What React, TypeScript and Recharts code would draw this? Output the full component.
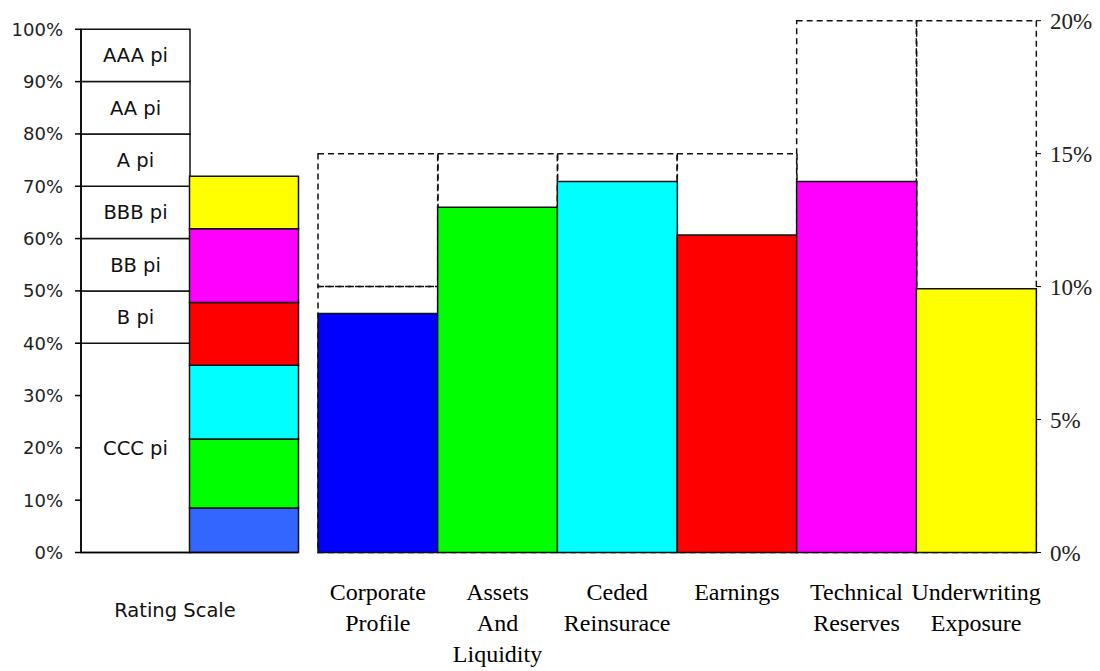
import { ComposedChart, BarChart, Bar, XAxis, YAxis, Cell, LabelList, Label } from "recharts";

// rating scale bands, bottom to top (left axis, %)
const ratingBands = ["CCC pi", "B pi", "BB pi", "BBB pi", "A pi", "AA pi", "AAA pi"];
const ratingBandSizes = [40, 10, 10, 10, 10, 10, 10];
const scoreTicks = [0, 10, 20, 30, 40, 50, 60, 70, 80, 90, 100];

// factors
const factors = [
    "Corporate Profile",
    "Assets And Liquidity",
    "Ceded Reinsurace",
    "Earnings",
    "Technical Reserves",
    "Underwriting Exposure",
];
const factorLabelLines = [
    ["Corporate", "Profile"],
    ["Assets", "And", "Liquidity"],
    ["Ceded", "Reinsurace"],
    ["Earnings"],
    ["Technical", "Reserves"],
    ["Underwriting", "Exposure"],
];
const factorScores = [45.7, 66.0, 70.9, 60.7, 70.9, 50.4];
const factorContributions = [8.5, 13.2, 14.1, 12.0, 14.1, 10.0];
const weightMin = [10, 15, 15, 15, 20, 20];
const weightMax = [15, 15, 15, 15, 20, 20];
const weightTicks = [0, 5, 10, 15, 20];

const factorColors = ["#0000FF", "#00FF00", "#00FFFF", "#FF0000", "#FF00FF", "#FFFF00"];
const contributionColors = ["#3366FF", "#00FF00", "#00FFFF", "#FF0000", "#FF00FF", "#FFFF00"];

const SANS = "DejaVu Sans";
const SERIF = "Liberation Serif";
// right plot is a bit taller than the left one (20% sits above 100%)
const SCORE_TOP = 101.64;

const ratingRows = [
    { name: "Rating Scale" } as Record<string, string | number>,
    { name: "Overall" } as Record<string, string | number>,
];
ratingBands.forEach((_, i) => {
    ratingRows[0]["band" + i] = ratingBandSizes[i];
    ratingRows[1]["band" + i] = 0;
});
factorContributions.forEach((v, i) => {
    ratingRows[0]["part" + i] = 0;
    ratingRows[1]["part" + i] = v;
});

const factorRows = factors.map((name, i) => ({
    name,
    score: factorScores[i],
    wLow: weightMin[i],
    wExtra: weightMax[i] - weightMin[i],
}));

function FactorTick(props: any) {
    const { x, y, payload } = props;
    const lines = factorLabelLines[payload.index] || [payload.value];
    return (
        <text x={x} y={y} textAnchor="middle" fontFamily={SERIF} fontSize={24} fill="#000">
            {lines.map((line, i) => (
                <tspan key={i} x={x} y={y + 47.5 + i * 31}>
                    {line}
                </tspan>
            ))}
        </text>
    );
}

export default function App() {
    return (
        <div style={{ position: "absolute", left: 0, top: 0, width: 1100, height: 671, background: "#fff" }}>
            <div style={{ position: "absolute", left: 0, top: 0 }}>
                <ComposedChart
                    width={1100}
                    height={671}
                    data={factorRows}
                    margin={{ top: 20.7, right: 0, bottom: 0, left: 318 }}
                    barCategoryGap={0}
                    barGap={0}
                >
                    <XAxis
                        xAxisId="score"
                        dataKey="name"
                        height={118.5}
                        axisLine={false}
                        tickLine={false}
                        tickSize={0}
                        tickMargin={0}
                        interval={0}
                        tick={<FactorTick />}
                    />
                    <XAxis xAxisId="wt" dataKey="name" hide />
                    <YAxis yAxisId="score" hide type="number" domain={[0, SCORE_TOP]} />
                    <YAxis
                        yAxisId="wt"
                        orientation="right"
                        width={64}
                        type="number"
                        domain={[0, 20]}
                        ticks={weightTicks}
                        tickFormatter={(v) => `${v}%`}
                        axisLine={false}
                        tickLine={{ stroke: "#000" }}
                        tickSize={5}
                        tickMargin={9}
                        tick={{ fill: "#222", fontSize: 23, fontFamily: SERIF }}
                    />
                    <Bar
                        xAxisId="wt"
                        yAxisId="wt"
                        dataKey="wLow"
                        stackId="w"
                        fill="none"
                        stroke="#111"
                        strokeWidth={1.5}
                        strokeDasharray="6 4"
                        isAnimationActive={false}
                    />
                    <Bar
                        xAxisId="wt"
                        yAxisId="wt"
                        dataKey="wExtra"
                        stackId="w"
                        fill="none"
                        stroke="#111"
                        strokeWidth={1.5}
                        strokeDasharray="6 4"
                        isAnimationActive={false}
                    />
                    <Bar
                        xAxisId="score"
                        yAxisId="score"
                        dataKey="score"
                        stroke="#111"
                        strokeWidth={1.5}
                        isAnimationActive={false}
                    >
                        {factorRows.map((_, i) => (
                            <Cell key={i} fill={factorColors[i]} />
                        ))}
                    </Bar>
                </ComposedChart>
            </div>
            <div style={{ position: "absolute", left: 0, top: 0 }}>
                <BarChart
                    width={320}
                    height={671}
                    data={ratingRows}
                    margin={{ top: 29.3, right: 22, bottom: 0, left: 0 }}
                    barCategoryGap={0}
                    barGap={0}
                >
                    <XAxis
                        dataKey="name"
                        height={118.5}
                        tick={false}
                        tickLine={false}
                        axisLine={{ stroke: "#000", strokeWidth: 1.5 }}
                    >
                        <Label
                            value="Rating Scale"
                            position="insideTop"
                            offset={50.5}
                            dx={-14.5}
                            fill="#111"
                            fontSize={19.5}
                            fontFamily={SANS}
                        />
                    </XAxis>
                    <YAxis
                        width={81}
                        type="number"
                        domain={[0, 100]}
                        ticks={scoreTicks}
                        tickFormatter={(v) => `${v}%`}
                        axisLine={{ stroke: "#000", strokeWidth: 1.5 }}
                        tickLine={{ stroke: "#000", strokeWidth: 1.5 }}
                        tickSize={6}
                        tickMargin={12}
                        tick={{ fill: "#222", fontSize: 18, fontFamily: SANS }}
                    />
                    {ratingBands.map((band, i) => (
                        <Bar
                            key={band}
                            dataKey={"band" + i}
                            stackId="s"
                            fill="#fff"
                            stroke="#111"
                            strokeWidth={1.5}
                            isAnimationActive={false}
                        >
                            <LabelList
                                dataKey={"band" + i}
                                position="center"
                                formatter={(v: any) => (v ? band : "")}
                                fill="#111"
                                fontSize={19.5}
                                fontFamily={SANS}
                            />
                        </Bar>
                    ))}
                    {factorContributions.map((_, i) => (
                        <Bar
                            key={"part" + i}
                            dataKey={"part" + i}
                            stackId="s"
                            fill={contributionColors[i]}
                            stroke="#111"
                            strokeWidth={1.5}
                            isAnimationActive={false}
                        />
                    ))}
                </BarChart>
            </div>
        </div>
    );
}
